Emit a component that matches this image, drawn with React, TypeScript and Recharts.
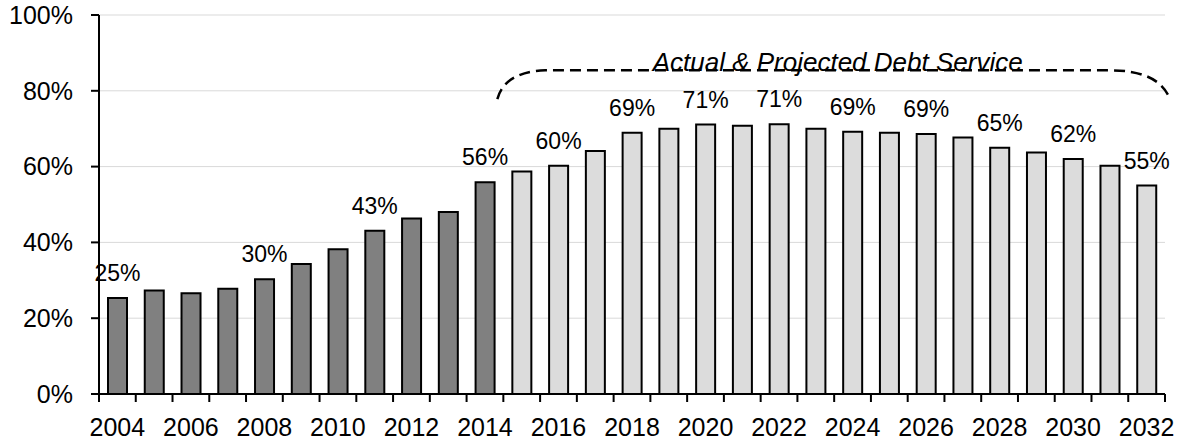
import React from "react";
import { BarChart, Bar, XAxis, YAxis, CartesianGrid, Cell, LabelList, ReferenceArea } from "recharts";

const years = [
  2004, 2005, 2006, 2007, 2008, 2009, 2010, 2011, 2012, 2013, 2014, 2015, 2016, 2017, 2018,
  2019, 2020, 2021, 2022, 2023, 2024, 2025, 2026, 2027, 2028, 2029, 2030, 2031, 2032,
];
const debtRatio = [
  25.3, 27.3, 26.6, 27.8, 30.3, 34.3, 38.2, 43.1, 46.3, 48.0, 55.9, 58.7, 60.2, 64.1, 68.9,
  70.0, 71.1, 70.8, 71.2, 70.0, 69.2, 68.9, 68.6, 67.7, 65.0, 63.7, 62.0, 60.2, 55.0,
];
const lastActualYear = 2014;
const labelledYears = [2004, 2008, 2011, 2014, 2016, 2018, 2020, 2022, 2024, 2026, 2028, 2030, 2032];
const yTicks = [0, 20, 40, 60, 80, 100];
const bracketText = "Actual & Projected Debt Service";
const bracketFrom = 2015;
const bracketTo = 2032;
const bracketLow = 77.8;
const bracketHigh = 85.4;

const data = years.map((year, i) => ({ year, value: debtRatio[i] }));

const W = 1180;
const H = 440;
const MARGIN = { top: 15, right: 15, bottom: 0, left: 0 };
const Y_AXIS_W = 99;
const X_AXIS_H = 46;
const PLOT_BOTTOM = H - MARGIN.bottom - X_AXIS_H;
const BAND = (W - MARGIN.left - Y_AXIS_W - MARGIN.right) / years.length;
const FONT = "'Liberation Sans', Arial, sans-serif";

function XTick(props: any) {
  const { x, payload } = props;
  const half = payload?.offset || BAND / 2;
  const idx = payload?.index ?? 0;
  return (
    <g>
      {idx === 0 && <line x1={x - half} x2={x - half} y1={PLOT_BOTTOM} y2={PLOT_BOTTOM + 8} stroke="#000" strokeWidth={2} />}
      <line x1={x + half} x2={x + half} y1={PLOT_BOTTOM} y2={PLOT_BOTTOM + 8} stroke="#000" strokeWidth={2} />
      {idx % 2 === 0 && (
        <text x={x} y={PLOT_BOTTOM + 42} textAnchor="middle" fontSize={25} fontFamily={FONT} fill="#000">
          {payload.value}
        </text>
      )}
    </g>
  );
}

function ValueLabel(props: any) {
  const { x, y, width, value, index } = props;
  if (!labelledYears.includes(years[index])) return null;
  return (
    <text x={x + width / 2} y={y - 17} textAnchor="middle" fontSize={23} fontFamily={FONT} fill="#000">
      {`${Math.round(value)}%`}
    </text>
  );
}

function Bracket(props: any) {
  const { x, y, width, height } = props;
  const L = x - 6;
  const R = x + width + 5;
  const top = y;
  const bot = y + height;
  const d = `M${L},${bot} C${L + 4},${top + 13} ${L + 18},${top + 1} ${L + 48},${top} L${R - 60},${top} C${R - 30},${top} ${R - 8},${top + 8} ${R},${bot}`;
  return (
    <g>
      <path d={d} fill="none" stroke="#000" strokeWidth={2.5} strokeDasharray="11 6" />
      <text x={(L + R) / 2 + 4} y={top + 1} textAnchor="middle" fontSize={26} fontStyle="italic" fontFamily={FONT} fill="#000">
        {bracketText}
      </text>
    </g>
  );
}

export default function App() {
  return (
    <div style={{ position: "absolute", left: 0, top: 0, width: W, height: H, background: "#fff" }}>
      <BarChart width={W} height={H} data={data} margin={MARGIN}>
        <CartesianGrid vertical={false} stroke="#d9d9d9" />
        <XAxis
          dataKey="year"
          height={X_AXIS_H}
          interval={0}
          tickLine={false}
          axisLine={{ stroke: "#000", strokeWidth: 2 }}
          tick={<XTick />}
        />
        <YAxis
          width={Y_AXIS_W}
          domain={[0, 100]}
          ticks={yTicks}
          tickFormatter={(v: number) => `${v}%`}
          axisLine={{ stroke: "#000", strokeWidth: 2 }}
          tickLine={{ stroke: "#000", strokeWidth: 2 }}
          tickSize={8}
          tickMargin={18}
          tick={{ fill: "#000", fontSize: 25, fontFamily: FONT }}
        />
        <ReferenceArea
          x1={bracketFrom}
          x2={bracketTo}
          y1={bracketLow}
          y2={bracketHigh}
          shape={(p: any) => <Bracket {...p} />}
        />
        <Bar dataKey="value" barSize={19} stroke="#000" strokeWidth={2} isAnimationActive={false}>
          {data.map((d) => (
            <Cell key={d.year} fill={d.year <= lastActualYear ? "#808080" : "#dcdcdc"} />
          ))}
          <LabelList dataKey="value" content={<ValueLabel />} />
        </Bar>
      </BarChart>
    </div>
  );
}
